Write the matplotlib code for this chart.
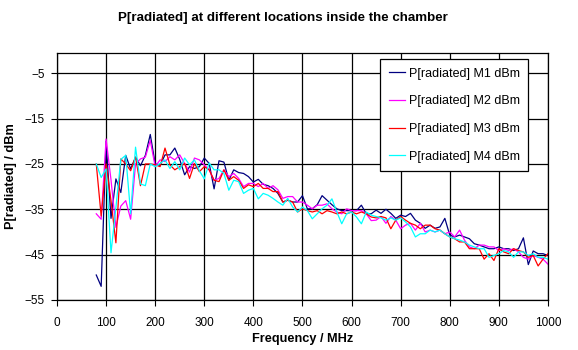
import numpy as np
import matplotlib
matplotlib.use('Agg')
import matplotlib.pyplot as plt

plt.rcParams['font.family'] = ['Liberation Sans', 'DejaVu Sans']

freq = list(range(80, 1001, 10))

m1 = [-49.5, -52, -20, -37, -28.3, -31.3, -23.1, -26.1, -23.5, -25.4,
      -23.1, -18.5, -25, -25.3, -23, -23, -21.5, -24, -27.4, -25.6,
      -26, -25.6, -23.7, -24.9, -30.5, -24.3, -24.6, -28.6, -26.3, -26.9,
      -27.1, -27.8, -29, -28.4, -29.5, -29.8, -30.4, -31.5, -33.4, -33,
      -33.4, -33.4, -32, -34.9, -34.9, -34, -32, -33, -34, -34.9,
      -35.3, -35.3, -35.3, -35.3, -34.1, -36, -36, -35.2, -35.9, -35,
      -35.9, -37, -36.3, -36.6, -35.9, -37.4, -38.1, -39.2, -38.5, -39.2,
      -38.9, -37, -40.7, -41.1, -40.7, -41.1, -41.5, -42.6, -42.9, -43.3,
      -43.7, -43.7, -43.3, -43.7, -43.7, -44.1, -43.7, -41.3, -47.2, -44.2,
      -44.8, -44.8, -45.2]

m2 = [-36, -37.2, -19.5, -28.5, -39, -34.3, -33.1, -37.2, -25, -23.9,
      -23.5, -19.8, -25.6, -24.1, -24.5, -23.4, -24.1, -23, -24.9, -26.8,
      -23.7, -24.1, -25.2, -26.3, -28.6, -28.2, -26.3, -27.8, -27.1, -28.2,
      -30, -29.3, -29.3, -30, -29.3, -30.4, -29.8, -30.7, -32.6, -32.2,
      -32.2, -33.4, -33.4, -34.1, -34.9, -34.1, -34.1, -33.8, -34.9, -35.6,
      -36, -34.9, -35.3, -35.3, -35.3, -36, -37.5, -37.4, -36.6, -38.1,
      -36.6, -37.4, -39.3, -38.5, -38.1, -39.6, -38.1, -40, -39.6, -40,
      -39.6, -40.4, -40, -41.1, -39.6, -41.8, -43.3, -43.7, -42.9, -42.9,
      -43.3, -43.3, -44.1, -43.7, -44.1, -43.7, -44.4, -45.6, -46, -45.2,
      -45.6, -46, -47.1]

m3 = [-25, -36.5, -25, -33.1, -42.4, -23.9, -25, -26.5, -23.5, -29.8,
      -25, -25, -25.2, -25.6, -21.5, -25.2, -26.3, -25.6, -24.9, -28.2,
      -24.9, -26.7, -25.6, -26.3, -28.6, -28.9, -26.3, -28.6, -27.8, -28.6,
      -30.4, -29.6, -30, -29.3, -30.4, -30.4, -31.1, -31.1, -33.4, -33,
      -33.4, -35.6, -34.9, -35.3, -35.6, -35.3, -36, -35.3, -35.6, -36,
      -35.6, -36, -35.6, -36, -35.6, -36, -36.7, -36.9, -36.6, -36.9,
      -39.3, -37.4, -36.6, -37.4, -38.1, -38.5, -39.3, -38.5, -38.5, -39.3,
      -39.6, -40.4, -41.1, -41.5, -42.2, -42.2, -43.7, -43.7, -43.7, -46,
      -44.8, -46.3, -43.7, -44.4, -44.8, -43.7, -44.1, -44.4, -45.6, -45.2,
      -47.5, -46, -44.8]

m4 = [-25, -28, -26.1, -44.6, -34.6, -24, -23.1, -36, -21.3, -29.4,
      -29.8, -25, -25.6, -24.9, -24.1, -26, -24.5, -26.3, -23.7, -25.2,
      -24.1, -26.5, -28.3, -24.8, -26.3, -26.3, -27.1, -30.8, -28.6, -28.9,
      -31.5, -30.8, -30.4, -32.7, -31.5, -31.9, -32.6, -33.4, -34.1, -32.6,
      -34.5, -35.6, -34.5, -35.3, -37.1, -36, -34.9, -34.1, -32.7, -35.6,
      -38.2, -36, -35.6, -36.7, -38.2, -35.6, -36.3, -36.6, -36.9, -37.4,
      -36.9, -37.4, -36.9, -37.8, -38.9, -41.1, -40.4, -40.4, -39.6, -40,
      -39.6, -40.4, -41.1, -41.5, -41.8, -42.2, -42.9, -43.3, -43.7, -43.7,
      -45.6, -45.2, -44.8, -44.1, -44.4, -45.6, -44.4, -44.4, -45.2, -44.8,
      -45.6, -45.6, -46]

seriesNames = ['P[radiated] M1 dBm', 'P[radiated] M2 dBm',
               'P[radiated] M3 dBm', 'P[radiated] M4 dBm']
seriesColors = ['#000080', '#FF00FF', '#FF0000', '#00FFFF']

fig = plt.figure(figsize=(5.78, 3.5), dpi=100)
ax = fig.add_axes([0.0986, 0.143, 0.8494, 0.706])

for vals, name, col in zip([m1, m2, m3, m4], seriesNames, seriesColors):
    ax.plot(freq, vals, color=col, lw=0.9, label=name)

ax.set_xlim(0, 1000)
ax.set_ylim(-55, -0.5)
ax.set_xticks(np.arange(0, 1001, 100))
ax.set_yticks(np.arange(-55, -4, 10))
ax.grid(True, color='black', lw=0.9)
ax.set_axisbelow(True)
ax.tick_params(axis='both', labelsize=8.5, length=4, direction='out')
ax.tick_params(axis='x', pad=8)
ax.tick_params(axis='y', pad=5)
for sp in ax.spines.values():
    sp.set_color('black')
    sp.set_linewidth(0.9)

ax.set_xlabel('Frequency / MHz', fontsize=9.2, fontweight='bold', labelpad=3)
ax.set_ylabel('P[radiated] / dBm', fontsize=9.2, fontweight='bold', labelpad=5)
fig.suptitle('P[radiated] at different locations inside the chamber',
             fontsize=9.6, fontweight='bold', x=0.49, y=0.965)

leg = ax.legend(loc='upper right', bbox_to_anchor=(0.96, 0.975), borderaxespad=0,
                fontsize=9, handlelength=1.3, handletextpad=0.3,
                labelspacing=1.25, fancybox=False, framealpha=1,
                edgecolor='black', borderpad=0.7)
leg.get_frame().set_linewidth(0.9)

fig.savefig('out.png', dpi=100)
